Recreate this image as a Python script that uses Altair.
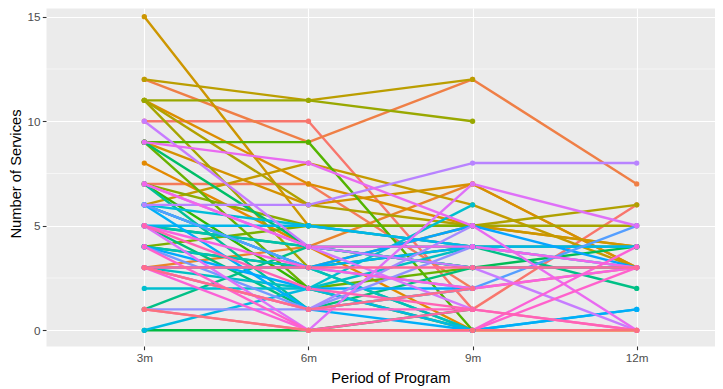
import math
import json
import altair as alt
import pandas as pd

# ---- data ----
periods = ["3m", "6m", "9m", "12m"]
v3m = [10, 7, 12, 3, 8, 11, 9, 15, 6, 12, 11, 11, 11, 7, 4, 9, 9, 7, 4, 0,
       5, 9, 5, 1, 7, 6, 5, 4, 3, 2, 6, 0, 5, 6, 6, 4, 3, 6, 4, 1,
       3, 6, 10, 7, 5, 9, 7, 5, 3, 4, 3, 5, 1, 3, 3, 1]
v6m = [10, 7, 9, 4, 4, 7, 6, 5, 8, 11, 6, 3, 11, 5, 5, 2, 9, 2, 3, 0,
       4, 4, 1, 4, 1, 3, 4, 3, 2, 2, 5, 2, 5, 3, 1, 2, 3, 3, 1, 1,
       1, 6, 4, 4, 0, 8, 4, 3, 0, 0, 1, 2, 0, 3, 1, 0]
v9m = [1, 2, 12, 7, 0, 5, 7, 5, 6, 12, 5, 5, 10, 4, 5, 3, 0, 0, 4, 1,
       3, 3, 3, 4, 2, 0, 3, 0, 4, 6, 4, 0, 4, 4, 0, 2, 5, 2, 2, 4,
       5, 8, 3, 1, 7, 5, 4, 2, 0, 0, 1, 1, 1, 3, 2, 0]
v12m = [6, 3, 7, 3, 0, 4, 3, 4, 3, None, 6, 5, None, 4, None, None, None, None, None, None,
        4, None, None, 2, None, None, 3, None, 3, None, 4, 1, 4, None, 1, None, 3, 5, None, 3,
        None, 8, 0, None, 5, 0, 3, 3, 4, 3, 0, 0, None, 3, None, 0]

y_major = [0, 5, 10, 15]
y_minor = [2.5, 7.5, 12.5]

n = len(v3m)
ids = [f"P{i + 1:02d}" for i in range(n)]


def hcl_hex(h, c=100.0, l=65.0):
    hr = math.radians(h)
    u = c * math.cos(hr)
    v = c * math.sin(hr)
    Xn, Yn, Zn = 95.047, 100.0, 108.883
    Y = Yn * ((l + 16) / 116) ** 3
    den = Xn + 15 * Yn + 3 * Zn
    un = 4 * Xn / den
    vn = 9 * Yn / den
    up = u / (13 * l) + un
    vp = v / (13 * l) + vn
    X = 9 * Y * up / (4 * vp)
    Z = -X / 3 - 5 * Y + 3 * Y / vp
    X, Y, Z = X / 100, Y / 100, Z / 100
    r = 3.240479 * X - 1.537150 * Y - 0.498535 * Z
    g = -0.969256 * X + 1.875992 * Y + 0.041556 * Z
    b = 0.055648 * X - 0.204043 * Y + 1.057311 * Z

    def gam(t):
        t = max(0.0, min(1.0, t))
        return 1.055 * t ** (1 / 2.4) - 0.055 if t > 0.0031308 else 12.92 * t

    return "#%02X%02X%02X" % tuple(int(round(255 * gam(t))) for t in (r, g, b))


colors = [hcl_hex(15 + 360 * i / n) for i in range(n)]

rows = []
for i in range(n):
    for k, vals in enumerate([v3m, v6m, v9m, v12m]):
        if vals[i] is not None:
            rows.append({"id": ids[i], "t": k + 1, "period": periods[k], "value": vals[i]})
df = pd.DataFrame(rows)
minor_df = pd.DataFrame({"value": y_minor})

FONT = "Liberation Sans, Arial, sans-serif"
label_expr = "%s[datum.value - 1]" % json.dumps(periods)

x_enc = alt.X(
    "t:Q",
    scale=alt.Scale(domain=[0.401, 4.477], nice=False, zero=False),
    axis=alt.Axis(
        values=[1, 2, 3, 4], labelExpr=label_expr, title="Period of Program",
        grid=True, gridColor="white", gridWidth=1.1, domain=False,
        tickColor="#333333", tickSize=3.7, tickWidth=1.1,
        labelColor="#4D4D4D", labelFontSize=11.7, labelFont=FONT, labelPadding=2.9,
        titleFont=FONT, titleFontSize=14.7, titleFontWeight="normal", titleColor="black",
        titleX=344.4, titleY=36, titleBaseline="alphabetic",
    ),
)
y_scale = alt.Scale(domain=[-0.752, 15.417], nice=False, zero=False)
y_axis = alt.Axis(
    values=y_major, title="Number of Services",
    grid=True, gridColor="white", gridWidth=1.1, domain=False,
    tickColor="#333333", tickSize=3.7, tickWidth=1.1,
    labelColor="#4D4D4D", labelFontSize=11.7, labelFont=FONT, labelPadding=2.4,
    titleFont=FONT, titleFontSize=14.7, titleFontWeight="normal", titleColor="black",
    titleX=-26, titleY=165.5, titleBaseline="alphabetic", titleAngle=270,
)
y_enc = alt.Y("value:Q", scale=y_scale, axis=y_axis)
color_enc = alt.Color("id:N", scale=alt.Scale(domain=ids, range=colors), legend=None)

minor = alt.Chart(minor_df).mark_rule(color="white", strokeWidth=0.55).encode(y=y_enc)
lines = alt.Chart(df).mark_line(strokeWidth=2.4, strokeJoin="round").encode(
    x=x_enc, y=y_enc, color=color_enc, detail="id:N", order="t:Q"
)
points = alt.Chart(df).mark_circle(size=28, opacity=1).encode(
    x=x_enc, y=y_enc, color=color_enc
)

chart = alt.layer(minor, lines, points).properties(
    width=669, height=338, autosize="none",
    padding={"left": 38, "top": 0, "right": 0, "bottom": 41},
).configure(
    background="white",
    view=alt.ViewConfig(stroke="transparent", fill="#EBEBEB"),
)

chart.save("out.html", embed_options={"renderer": "svg", "actions": False})
